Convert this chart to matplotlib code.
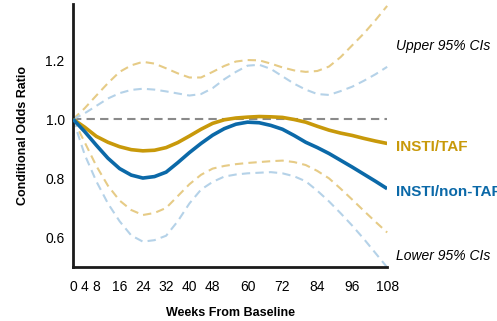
import matplotlib.pyplot as plt

plt.rcParams['font.family'] = ['Liberation Sans', 'DejaVu Sans']

weeks = [0, 4, 8, 12, 16, 20, 24, 28, 32, 36, 40, 44, 48, 52,
         56, 60, 64, 68, 72, 76, 80, 84, 88, 92, 96, 100, 104, 108]

taf = [1.0, 0.973, 0.942, 0.922, 0.907, 0.897, 0.893, 0.895, 0.904, 0.921,
       0.943, 0.966, 0.986, 0.998, 1.004, 1.007, 1.009, 1.008, 1.006, 0.999,
       0.990, 0.976, 0.963, 0.953, 0.945, 0.935, 0.926, 0.918]
taf_upper = [1.0, 1.037, 1.080, 1.122, 1.160, 1.182, 1.194, 1.188, 1.172, 1.155,
             1.141, 1.141, 1.160, 1.180, 1.195, 1.200, 1.199, 1.188, 1.175, 1.165,
             1.160, 1.163, 1.178, 1.210, 1.250, 1.290, 1.335, 1.383]
taf_lower = [1.0, 0.922, 0.842, 0.775, 0.725, 0.693, 0.676, 0.683, 0.700, 0.740,
             0.780, 0.812, 0.833, 0.842, 0.848, 0.852, 0.855, 0.858, 0.860, 0.855,
             0.845, 0.825, 0.800, 0.765, 0.728, 0.690, 0.653, 0.617]

nontaf = [1.0, 0.958, 0.912, 0.868, 0.833, 0.811, 0.801, 0.806, 0.821, 0.853,
          0.887, 0.918, 0.946, 0.968, 0.983, 0.990, 0.988, 0.979, 0.966, 0.945,
          0.922, 0.904, 0.884, 0.861, 0.838, 0.814, 0.790, 0.765]
nontaf_upper = [1.0, 1.020, 1.045, 1.070, 1.088, 1.099, 1.103, 1.100, 1.094, 1.087,
                1.080, 1.085, 1.105, 1.135, 1.160, 1.181, 1.184, 1.170, 1.145, 1.120,
                1.100, 1.085, 1.082, 1.095, 1.110, 1.130, 1.152, 1.177]
nontaf_lower = [1.0, 0.880, 0.790, 0.715, 0.655, 0.607, 0.586, 0.591, 0.606, 0.655,
                0.715, 0.762, 0.788, 0.806, 0.813, 0.817, 0.819, 0.821, 0.817, 0.807,
                0.790, 0.758, 0.722, 0.682, 0.640, 0.595, 0.547, 0.499]

xticks = [0, 4, 8, 16, 24, 32, 40, 48, 60, 72, 84, 96, 108]
yticks = [0.6, 0.8, 1.0, 1.2]

gold = '#C8990A'
blue = '#0B69A8'
gold_light = '#E6CB86'
blue_light = '#B5D2E8'

fig = plt.figure(figsize=(4.97, 3.21), dpi=100)
ax = fig.add_axes([0.147, 0.168, 0.632, 0.82])

ax.plot([0, 108], [1.0, 1.0], color='#8a8a8a', lw=1.5, dashes=(4, 2.5), zorder=1)

ax.plot(weeks, taf_upper, color=gold_light, lw=1.5, dashes=(4, 2.5), clip_on=False)
ax.plot(weeks, taf_lower, color=gold_light, lw=1.5, dashes=(4, 2.5), clip_on=False)
ax.plot(weeks, nontaf_upper, color=blue_light, lw=1.5, dashes=(4, 2.5), clip_on=False)
ax.plot(weeks, nontaf_lower, color=blue_light, lw=1.5, dashes=(4, 2.5), clip_on=False)

ax.plot(weeks, taf, color=gold, lw=2.6, solid_capstyle='butt', zorder=3)
ax.plot(weeks, nontaf, color=blue, lw=2.6, solid_capstyle='butt', zorder=3)

ax.set_xlim(0, 108)
ax.set_ylim(0.5, 1.39)
ax.set_xticks(xticks)
ax.set_yticks(yticks)
ax.set_yticklabels(['0.6', '0.8', '1.0', '1.2'])
ax.tick_params(length=0, labelsize=10, pad=9)
ax.tick_params(axis='y', pad=6)

for s in ['top', 'right']:
    ax.spines[s].set_visible(False)
for s in ['left', 'bottom']:
    ax.spines[s].set_linewidth(2)
    ax.spines[s].set_color('#1a1a1a')

ax.set_xlabel('Weeks From Baseline', fontsize=9, fontweight='bold', labelpad=10)
ax.set_ylabel('Conditional Odds Ratio', fontsize=9, fontweight='bold', labelpad=12)

ax.text(111, 1.249, 'Upper 95% CIs', fontsize=10, style='italic', va='center', clip_on=False)
ax.text(111, 0.905, 'INSTI/TAF', fontsize=11, fontweight='bold', color=gold, va='center', clip_on=False)
ax.text(111, 0.755, 'INSTI/non-TAF', fontsize=11, fontweight='bold', color=blue, va='center', clip_on=False)
ax.text(111, 0.537, 'Lower 95% CIs', fontsize=10, style='italic', va='center', clip_on=False)

fig.savefig('out.png', dpi=100)
